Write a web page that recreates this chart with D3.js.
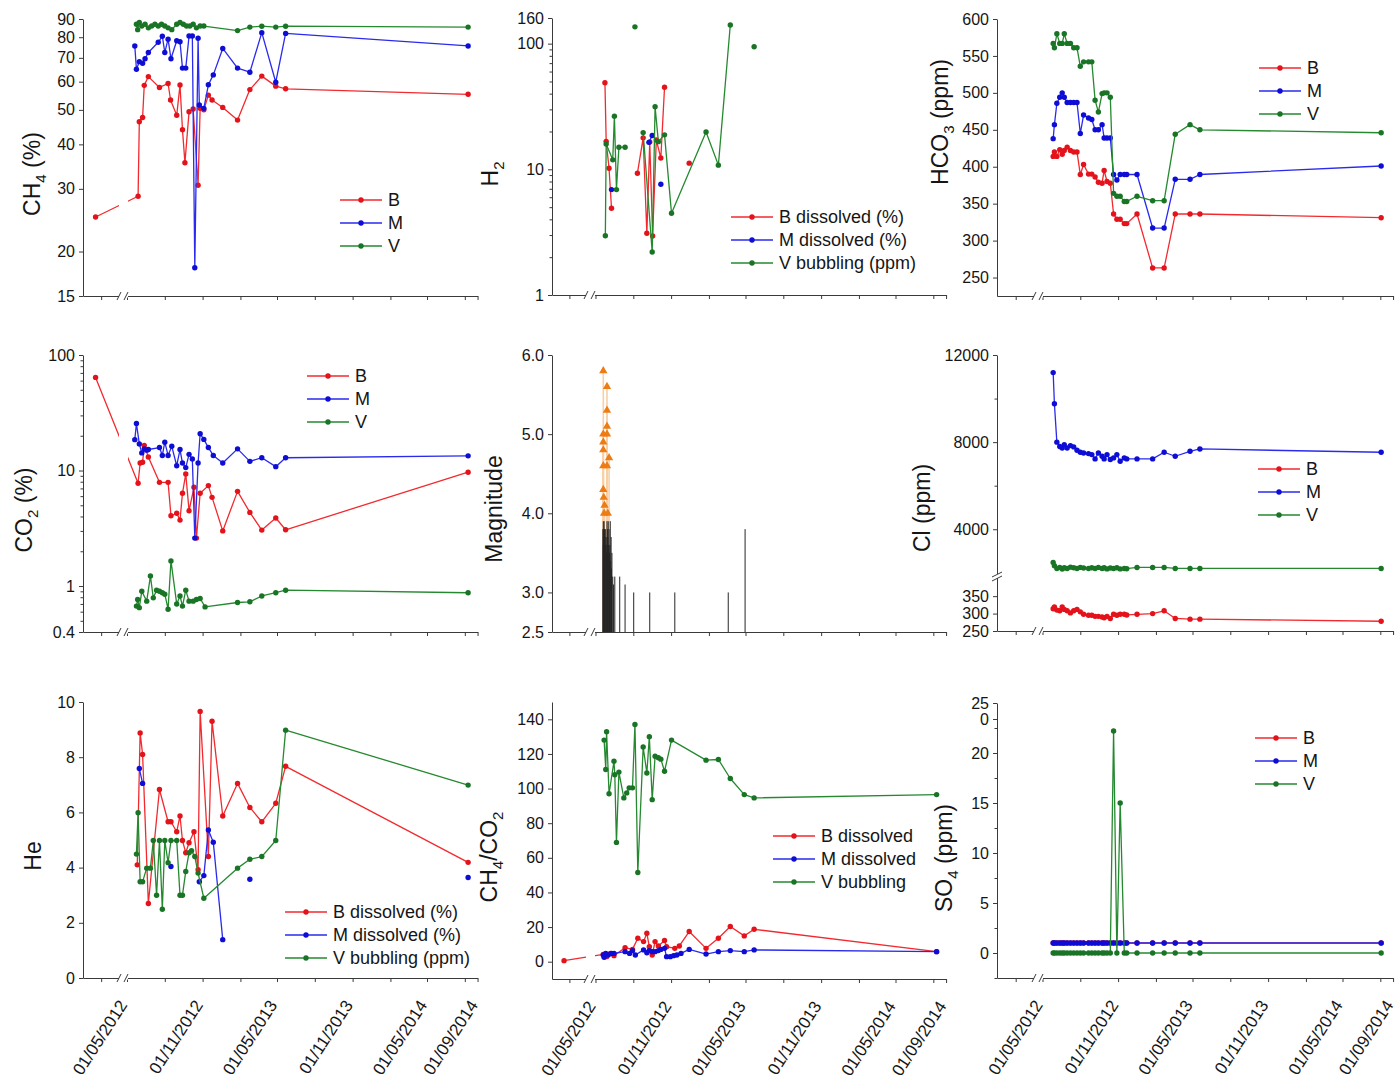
<!DOCTYPE html>
<html>
<head>
<meta charset="utf-8">
<script src="https://cdn.jsdelivr.net/npm/d3@7"></script>
<style>
  html, body { margin: 0; padding: 0; background: #fff; }
  svg { display: block; font-family: "Liberation Sans", Arial, Helvetica, sans-serif; }
</style>
</head>
<body>
<script>
// ---------- Gas samples: CH4 (%) ----------
const ch4B = [
  ["2011-09-15", 25.0],
  ["2012-05-28", 28.6], ["2012-05-31", 46.3], ["2012-06-08", 47.6], ["2012-06-12", 58.6], ["2012-06-22", 62.0],
  ["2012-07-19", 57.8], ["2012-08-09", 59.3], ["2012-08-15", 53.3], ["2012-08-30", 48.3], ["2012-09-07", 58.7],
  ["2012-09-13", 44.0], ["2012-09-19", 35.5], ["2012-09-29", 49.4], ["2012-10-09", 50.3], ["2012-10-21", 30.7],
  ["2012-10-26", 50.5], ["2012-11-04", 50.0], ["2012-11-15", 55.0], ["2012-11-24", 53.3], ["2012-12-20", 50.8],
  ["2013-01-25", 46.8], ["2013-02-24", 57.0], ["2013-03-25", 62.2], ["2013-04-28", 58.3], ["2013-05-22", 57.3],
  ["2014-08-09", 55.3]
];
const ch4M = [
  ["2012-05-20", 75.6], ["2012-05-24", 65.0], ["2012-05-31", 68.3], ["2012-06-08", 67.6], ["2012-06-14", 69.6],
  ["2012-06-22", 72.5], ["2012-07-16", 77.4], ["2012-07-26", 80.5], ["2012-08-01", 72.5], ["2012-08-09", 79.0],
  ["2012-08-16", 69.6], ["2012-08-30", 78.2], ["2012-09-07", 77.7], ["2012-09-13", 65.5], ["2012-09-21", 65.5],
  ["2012-09-29", 80.6], ["2012-10-07", 80.6], ["2012-10-13", 18.0], ["2012-10-21", 79.5], ["2012-10-24", 51.6],
  ["2012-11-04", 50.5], ["2012-11-15", 58.8], ["2012-11-27", 62.7], ["2012-12-20", 74.4], ["2013-01-25", 65.5],
  ["2013-02-24", 63.8], ["2013-03-25", 82.4], ["2013-04-28", 59.8], ["2013-05-22", 82.0], ["2014-08-09", 75.6]
];
const ch4V = [
  ["2012-05-24", 87.0], ["2012-05-27", 84.0], ["2012-05-31", 88.0], ["2012-06-06", 86.0], ["2012-06-14", 87.0],
  ["2012-06-22", 85.0], ["2012-06-30", 86.0], ["2012-07-08", 87.0], ["2012-07-16", 86.0], ["2012-07-24", 87.0],
  ["2012-08-01", 86.0], ["2012-08-09", 85.0], ["2012-08-18", 84.0], ["2012-08-30", 87.0], ["2012-09-07", 88.0],
  ["2012-09-15", 87.0], ["2012-09-23", 86.0], ["2012-10-01", 86.0], ["2012-10-09", 87.0], ["2012-10-17", 85.0],
  ["2012-10-26", 86.0], ["2012-11-04", 86.0], ["2013-01-25", 83.5], ["2013-02-24", 85.4], ["2013-03-25", 85.9],
  ["2013-04-28", 85.4], ["2013-05-22", 85.9], ["2014-08-09", 85.4]
];

// ---------- H2 ----------
const h2B = [
  ["2012-05-24", 48.9], ["2012-05-27", 16.7], ["2012-06-03", 10.2], ["2012-06-09", 4.9], null,
  ["2012-08-11", 9.3], ["2012-08-25", 17.8], ["2012-09-03", 3.1], ["2012-09-10", 16.5], ["2012-09-17", 2.95],
  ["2012-09-26", 17.1], ["2012-10-07", 12.3], ["2012-10-16", 45.0], null, ["2012-12-15", 11.2]
];
const h2M = [
  ["2012-06-09", 6.9], null, ["2012-09-08", 16.4], ["2012-09-16", 18.6], null, ["2012-10-07", 7.6]
];
const h2V = [
  ["2012-05-25", 2.96], ["2012-05-27", 15.9], ["2012-06-12", 11.9], ["2012-06-16", 26.5], ["2012-06-21", 6.9],
  ["2012-06-27", 15.0], ["2012-07-12", 15.0], null, ["2012-08-05", 136], null,
  ["2012-08-25", 19.6], ["2012-09-16", 2.2], ["2012-09-23", 31.5], ["2012-10-01", 16.6], ["2012-10-16", 18.8],
  ["2012-11-02", 4.47], ["2013-01-25", 19.8], ["2013-02-24", 10.8], ["2013-03-25", 140.6], null, ["2013-05-22", 94.5]
];

// ---------- CO2 (%) ----------
const co2B = [
  ["2011-09-15", 64],
  ["2012-05-28", 7.76], ["2012-06-02", 11.6], ["2012-06-08", 11.8], ["2012-06-12", 16.5], ["2012-06-22", 13.1],
  ["2012-07-19", 7.9], ["2012-08-09", 7.9], ["2012-08-16", 4.06], ["2012-08-30", 4.26], ["2012-09-07", 3.72],
  ["2012-09-13", 6.35], ["2012-09-21", 9.35], ["2012-09-29", 4.49], ["2012-10-11", 7.16], ["2012-10-17", 2.6],
  ["2012-10-26", 6.35], ["2012-11-15", 7.4], ["2012-11-24", 5.86], ["2012-12-20", 3.0], ["2013-01-25", 6.6],
  ["2013-02-24", 4.34], ["2013-03-25", 3.05], ["2013-04-28", 3.88], ["2013-05-22", 3.07], ["2014-08-09", 9.67]
];
const co2M = [
  ["2012-05-20", 18.5], ["2012-05-24", 25.5], ["2012-05-31", 17.0], ["2012-06-06", 14.2], ["2012-06-12", 15.4],
  ["2012-06-18", 15.0], ["2012-06-22", 15.2], ["2012-07-19", 15.8], ["2012-07-26", 13.5], ["2012-08-01", 17.6],
  ["2012-08-09", 13.5], ["2012-08-18", 16.2], ["2012-08-30", 11.0], ["2012-09-07", 15.2], ["2012-09-13", 11.6],
  ["2012-09-21", 10.6], ["2012-09-29", 13.8], ["2012-10-07", 12.6], ["2012-10-13", 2.6], ["2012-10-21", 11.6],
  ["2012-10-26", 20.8], ["2012-11-04", 18.6], ["2012-11-15", 15.8], ["2012-11-27", 13.5], ["2012-12-20", 11.6],
  ["2013-01-25", 15.4], ["2013-02-24", 12.0], ["2013-03-25", 12.9], ["2013-04-28", 10.8], ["2013-05-22", 12.9],
  ["2014-08-09", 13.4]
];
const co2V = [
  ["2012-05-24", 0.67], ["2012-05-27", 0.765], ["2012-05-31", 0.65], ["2012-06-06", 0.9], ["2012-06-18", 0.74],
  ["2012-06-27", 1.22], ["2012-07-04", 0.79], ["2012-07-12", 0.92], ["2012-07-19", 0.9], ["2012-07-26", 0.875],
  ["2012-08-01", 0.85], ["2012-08-09", 0.63], ["2012-08-16", 1.65], ["2012-08-30", 0.70], ["2012-09-07", 0.82],
  ["2012-09-13", 0.67], ["2012-09-21", 0.92], ["2012-09-29", 0.74], ["2012-10-09", 0.74], ["2012-10-17", 0.765],
  ["2012-10-26", 0.78], ["2012-11-07", 0.66], ["2013-01-25", 0.72], ["2013-02-24", 0.73], ["2013-03-25", 0.82],
  ["2013-04-28", 0.875], ["2013-05-22", 0.92], ["2014-08-09", 0.875]
];

// ---------- He ----------
const heB = [
  ["2012-05-26", 4.1], ["2012-06-02", 8.88], ["2012-06-08", 8.1], ["2012-06-22", 2.7], ["2012-07-19", 6.83],
  ["2012-08-09", 5.66], ["2012-08-16", 5.66], ["2012-08-30", 5.3], ["2012-09-07", 5.87], ["2012-09-13", 4.98],
  ["2012-09-21", 4.54], ["2012-09-29", 4.9], ["2012-10-11", 5.3], ["2012-10-21", 3.92], ["2012-10-26", 9.66],
  ["2012-11-15", 4.4], ["2012-11-24", 9.3], ["2012-12-20", 5.87], ["2013-01-25", 7.05], ["2013-02-24", 6.18],
  ["2013-03-25", 5.66], ["2013-04-28", 6.33], ["2013-05-22", 7.67], ["2014-08-09", 4.19]
];
const heM = [
  ["2012-05-31", 7.59], ["2012-06-08", 7.05], null, ["2012-08-16", 4.04], null,
  ["2012-10-24", 3.49], ["2012-11-04", 3.71], ["2012-11-15", 5.36], ["2012-11-27", 4.92], ["2012-12-20", 1.39], null,
  ["2013-02-24", 3.58], null, ["2014-08-09", 3.64]
];
const heV = [
  ["2012-05-24", 4.49], ["2012-05-28", 5.99], ["2012-06-02", 3.49], ["2012-06-08", 3.49], ["2012-06-18", 3.98],
  ["2012-06-27", 3.98], ["2012-07-04", 4.98], ["2012-07-12", 3.0], ["2012-07-19", 4.98], ["2012-07-26", 2.49],
  ["2012-08-01", 4.98], ["2012-08-09", 4.18], ["2012-08-16", 4.98], ["2012-08-30", 4.98], ["2012-09-07", 3.0],
  ["2012-09-13", 3.0], ["2012-09-21", 3.86], ["2012-09-29", 4.54], ["2012-10-05", 4.61], ["2012-10-13", 4.4],
  ["2012-10-21", 3.8], ["2012-11-04", 2.89], ["2013-01-25", 3.98], ["2013-02-24", 4.3], ["2013-03-25", 4.4],
  ["2013-04-28", 4.98], ["2013-05-22", 8.98], ["2014-08-09", 6.99]
];

// ---------- CH4/CO2 ----------
const ratioB = [
  ["2011-09-15", 0.6],
  ["2012-05-20", 4.2], ["2012-05-28", 2.9], ["2012-06-06", 4.8], ["2012-06-15", 3.5], ["2012-07-12", 8.1],
  ["2012-07-30", 7.1], ["2012-08-12", 13.5], ["2012-08-26", 11.6], ["2012-09-03", 16.4], ["2012-09-09", 8.7],
  ["2012-09-16", 3.9], ["2012-09-23", 11.6], ["2012-10-01", 9.1], ["2012-10-16", 12.2], ["2012-10-21", 8.7],
  ["2012-11-10", 7.7], ["2012-11-21", 9.1], ["2012-12-15", 17.4], ["2013-01-25", 7.7], ["2013-02-24", 13.5],
  ["2013-03-25", 20.3], ["2013-04-28", 14.9], ["2013-05-22", 18.7], ["2014-08-09", 5.8]
];
const ratioM = [
  ["2012-05-20", 3.9], ["2012-05-22", 2.5], ["2012-05-26", 4.8], ["2012-06-01", 3.9], ["2012-06-09", 4.8],
  ["2012-06-15", 4.8], ["2012-07-12", 5.8], ["2012-07-23", 4.8], ["2012-07-30", 6.4], ["2012-08-06", 3.9],
  ["2012-08-26", 6.8], ["2012-09-03", 5.2], ["2012-09-09", 6.4], ["2012-09-16", 5.8], ["2012-09-23", 5.8],
  ["2012-10-01", 6.4], ["2012-10-07", 7.1], ["2012-10-16", 7.7], ["2012-10-21", 2.9], ["2012-10-30", 2.9],
  ["2012-11-07", 3.5], ["2012-11-15", 3.9], ["2012-11-25", 4.8], ["2012-12-15", 7.1], ["2013-01-25", 4.4],
  ["2013-02-24", 5.8], ["2013-03-25", 6.4], ["2013-04-28", 5.8], ["2013-05-22", 6.8], ["2014-08-09", 5.8]
];
const ratioV = [
  ["2012-05-22", 128], ["2012-05-26", 111], ["2012-05-28", 132.8], ["2012-06-03", 97], ["2012-06-15", 115.8],
  ["2012-06-17", 108], ["2012-06-21", 68.9], ["2012-06-27", 109.5], ["2012-07-09", 94.6], ["2012-07-16", 97.5],
  ["2012-07-22", 100.4], ["2012-07-30", 100.4], ["2012-08-05", 137], ["2012-08-12", 51.5], ["2012-08-25", 124],
  ["2012-09-03", 109], ["2012-09-09", 130], ["2012-09-16", 93.6], ["2012-09-23", 118.7], ["2012-10-01", 117.8],
  ["2012-10-07", 117], ["2012-10-16", 110], ["2012-11-02", 128], ["2013-01-25", 116.4], ["2013-02-24", 116.8],
  ["2013-03-25", 105.8], ["2013-04-28", 96.5], ["2013-05-22", 94.6], ["2014-08-09", 96.5]
];

// ---------- Seismicity (local magnitude) ----------
const quakes = [
  ["2012-05-19", 3.8], ["2012-05-20", 3.9], ["2012-05-20", 3.6], ["2012-05-21", 3.8], ["2012-05-21", 3.3],
  ["2012-05-22", 3.9], ["2012-05-23", 3.8], ["2012-05-23", 3.4], ["2012-05-24", 3.7], ["2012-05-25", 3.8],
  ["2012-05-26", 3.6], ["2012-05-27", 3.7], ["2012-05-28", 3.5], ["2012-05-29", 3.9], ["2012-05-29", 3.6],
  ["2012-05-30", 3.8], ["2012-05-31", 3.7], ["2012-06-01", 3.9], ["2012-06-02", 3.6], ["2012-06-03", 3.8],
  ["2012-06-04", 3.5], ["2012-06-05", 3.6], ["2012-06-06", 3.9], ["2012-06-07", 3.4], ["2012-06-08", 3.7],
  ["2012-06-09", 3.3], ["2012-06-10", 3.5], ["2012-06-12", 3.2], ["2012-06-14", 3.1], ["2012-06-17", 3.2],
  ["2012-06-29", 3.2], ["2012-07-12", 3.1], ["2012-08-02", 3.0], ["2012-09-10", 3.0], ["2012-11-10", 3.0],
  ["2013-03-20", 3.0], ["2013-04-30", 3.8]
];
const strongQuakes = [
  ["2012-05-20", 5.8], ["2012-05-29", 5.6], ["2012-05-29", 5.3], ["2012-05-29", 5.1], ["2012-05-20", 5.0],
  ["2012-05-29", 5.0], ["2012-05-20", 4.9], ["2012-05-20", 4.8], ["2012-06-03", 4.7], ["2012-05-20", 4.6],
  ["2012-05-29", 4.6], ["2012-05-20", 4.3], ["2012-05-21", 4.2], ["2012-05-23", 4.1], ["2012-05-22", 4.0],
  ["2012-05-31", 4.0]
];

// ---------- Water samples (HCO3, Cl, SO4 in ppm) ----------
const waterDates = [
  "2012-05-27", "2012-05-30", "2012-06-05", "2012-06-12", "2012-06-18", "2012-06-23", "2012-06-30", "2012-07-08",
  "2012-07-16", "2012-07-24", "2012-08-01", "2012-08-09", "2012-08-21", "2012-08-29", "2012-09-06", "2012-09-14",
  "2012-09-23", "2012-09-28", "2012-10-05", "2012-10-13", "2012-10-21", "2012-10-29", "2012-11-06", "2012-11-16",
  "2012-11-22", "2012-12-17", "2013-01-24", "2013-02-21", "2013-03-20", "2013-04-25", "2013-05-19", "2014-08-03"
];
const hco3B = [414, 420, 414, 423, 417, 422, 426.5, 422, 420, 420, 389.5, 403, 390, 390, 386, 379,
               377.7, 395, 380, 377.7, 336, 329, 329, 323, 323, 336, 263, 263, 336, 336, 336, 331];
const hco3M = [438, 457, 486, 494, 500, 494, 487, 487, 487, 487, 445, 470, 466, 464, 450, 450,
               457, 439, 439, 439, 389.5, 382, 389.5, 389.5, 389.5, 389.5, 317, 317, 383, 383, 389.5, 401];
const hco3V = [567, 561, 580, 567, 567, 580, 567, 567, 561, 561, 536, 542, 542, 542, 490, 474,
               499, 500, 500, 494, 364, 360, 360, 353, 353, 360, 354, 354, 444, 457, 450, 446];
const clB = [314, 319, 310, 308, 319, 312, 308, 302, 308, 312, 305, 298, 295, 295, 292, 292,
             290, 288, 292, 286, 298, 295, 298, 298, 296, 298, 300, 308, 286, 284, 284, 278];
const clM = [11192, 9760, 8000, 7800, 7733, 7885, 7733, 7840, 7780, 7626, 7535, 7504, 7474, 7428, 7230, 7504,
             7352, 7230, 7428, 7200, 7276, 7428, 7123, 7276, 7230, 7230, 7230, 7535, 7352, 7580, 7687, 7535];
const clV = [2475, 2323, 2200, 2250, 2170, 2230, 2200, 2260, 2230, 2200, 2250, 2220, 2200, 2230, 2200, 2250,
             2200, 2230, 2180, 2220, 2200, 2230, 2180, 2200, 2190, 2246, 2246, 2246, 2200, 2200, 2200, 2200];
const so4B = [1, 1, 1, 1, 1, 1, 1, 1, 1, 1, 1, 1, 1, 1, 1, 1, 1, 1, 1, 1, 1, 1, 1, 1, 1, 1, 1, 1, 1, 1, 1, 1];
const so4M = [1, 1, 1, 1, 1, 1, 1, 1, 1, 1, 1, 1, 1, 1, 1, 1, 1, 1, 1, 1, 1, 1, 1, 1, 1, 1, 1, 1, 1, 1, 1, 1];
const so4V = [0, 0, 0, 0, 0, 0, 0, 0, 0, 0, 0, 0, 0, 0, 0, 0, 0, 0, 0, 0, 22.2, 0, 15, 0, 0, 0, 0, 0, 0, 0, 0, 0];

// ---------- Axis ticks ----------
const xTickDates = ["2011-11-01", "2012-05-01", "2012-08-01", "2012-11-01", "2013-02-01", "2013-05-01",
                    "2013-08-01", "2013-11-01", "2014-02-01", "2014-05-01", "2014-08-01", "2014-09-01"];
const xLabelDates = ["2012-05-01", "2012-11-01", "2013-05-01", "2013-11-01", "2014-05-01", "2014-09-01"];
const gasLegend = ["B", "M", "V"];
const h2Legend = ["B dissolved (%)", "M dissolved (%)", "V bubbling (ppm)"];
const ratioLegend = ["B dissolved", "M dissolved", "V bubbling"];

// ---------- Drawing ----------
const W = 1397, H = 1089;
const parse = d3.timeParse("%Y-%m-%d");
const DAY = 864e5;
const colors = { B: "#f22a2f", M: "#2a2aee", V: "#25892f" };
const dotColors = { B: "#e4121a", M: "#0d0dd6", V: "#1a7426" };
const axisColor = "#3a3a3a";

const svg = d3.select("body").append("svg").attr("width", W).attr("height", H);
svg.append("rect").attr("width", W).attr("height", H).attr("fill", "#fff");

// one broken time axis per column: a short stretch before the break, then linear time
const columns = [
  { left: 83,  breakX: 121,  anchorX: 277,    k: 0.411 },
  { left: 552, breakX: 588,  anchorX: 745.5,  k: 0.411 },
  { left: 997, breakX: 1036, anchorX: 1192.5, k: 0.411 }
];
const anchorDate = parse("2013-05-01"), endDate = parse("2014-09-01"), preStart = parse("2011-06-01");
columns.forEach(c => {
  const endX = c.anchorX + (endDate - anchorDate) / DAY * c.k;
  const breakDate = new Date(+anchorDate + (c.breakX - c.anchorX) / c.k * DAY);
  c.x = d3.scaleTime().domain([preStart, breakDate, endDate]).range([c.left, c.breakX, endX]);
});

const pairs = (dates, vals) => dates.map((d, i) => [d, vals[i]]);
const range = (a, b, s) => d3.range(a, b + s / 2, s);

const panels = [
  { col: 0, row: 0, y: d3.scaleLog().domain([15, 90]).range([296, 19]),
    ticks: [15, 20, 30, 40, 50, 60, 70, 80, 90],
    title: [["CH"], ["4", 1], ["  (%)"]], tx: 40, ty: 174,
    series: { B: ch4B, M: ch4M, V: ch4V }, legend: [340, 200, gasLegend] },
  { col: 1, row: 0, y: d3.scaleLog().domain([1, 160]).range([295, 18]),
    ticks: [1, 10, 100, 160], minor: [2, 3, 4, 5, 6, 7, 8, 9, 20, 30, 40, 50, 60, 70, 80, 90],
    title: [["H"], ["2", 1]], tx: 498, ty: 174,
    series: { B: h2B, M: h2M, V: h2V }, legend: [731, 217, h2Legend] },
  { col: 2, row: 0, y: d3.scaleLinear().domain([225, 600]).range([296, 19]),
    ticks: range(250, 600, 50),
    title: [["HCO"], ["3", 1], [" (ppm)"]], tx: 948, ty: 122,
    series: { B: pairs(waterDates, hco3B), M: pairs(waterDates, hco3M), V: pairs(waterDates, hco3V) },
    legend: [1259, 68, gasLegend] },
  { col: 0, row: 1, y: d3.scaleLog().domain([0.4, 100]).range([632, 355]),
    ticks: [0.4, 1, 10, 100], minor: [0.5, 0.6, 0.7, 0.8, 0.9, 2, 3, 4, 5, 6, 7, 8, 9, 20, 30, 40, 50, 60, 70, 80, 90],
    title: [["CO"], ["2", 1], ["  (%)"]], tx: 32, ty: 510,
    series: { B: co2B, M: co2M, V: co2V }, legend: [307, 376, gasLegend] },
  { col: 1, row: 1, y: d3.scaleLinear().domain([2.5, 6]).range([632, 355]),
    ticks: [2.5, 3, 4, 5, 6], fmt: d3.format(".1f"),
    title: [["Magnitude"]], tx: 502, ty: 509, quakes: true },
  { col: 2, row: 1, y: d3.scaleLinear().domain([250, 405, 1900, 12000]).range([631, 577, 575, 355]),
    ticks: [250, 300, 350, 4000, 8000, 12000], minor: [6000, 10000], yBreak: 576,
    title: [["Cl (ppm)"]], tx: 930, ty: 508,
    series: { B: pairs(waterDates, clB), M: pairs(waterDates, clM), V: pairs(waterDates, clV) },
    legend: [1258, 469, gasLegend] },
  { col: 0, row: 2, y: d3.scaleLinear().domain([0, 10]).range([978, 702]),
    ticks: range(0, 10, 2),
    title: [["He"]], tx: 41, ty: 856,
    series: { B: heB, M: heM, V: heV }, legend: [285, 912, h2Legend] },
  { col: 1, row: 2, y: d3.scaleLinear().domain([-10, 150]).range([979, 702]),
    ticks: range(0, 140, 20),
    title: [["CH"], ["4", 1], ["/CO"], ["2", 1]], tx: 497, ty: 857,
    series: { B: ratioB, M: ratioM, V: ratioV }, legend: [773, 836, ratioLegend] },
  { col: 2, row: 2, y: d3.scaleLinear().domain([-2.5, 25]).range([978, 703]),
    ticks: [0, 5, 10, 15, 20, 23.4, 25], fmt: d => (d === 23.4 ? "0" : d),
    minor: [-2.5, 2.5, 7.5, 12.5, 17.5, 22.5],
    title: [["SO"], ["4", 1], [" (ppm)"]], tx: 952, ty: 858,
    series: { B: pairs(waterDates, so4B), M: pairs(waterDates, so4M), V: pairs(waterDates, so4V) },
    legend: [1255, 738, gasLegend] }
];

function styleAxis(g) {
  g.selectAll("path, line").attr("stroke", axisColor).attr("stroke-width", 1);
  g.selectAll("text").attr("fill", "#151515").attr("font-size", 16);
}

panels.forEach(p => {
  const c = columns[p.col];
  const x = c.x, y = p.y;
  const yr = y.range();
  const bottom = yr[0], top = yr[yr.length - 1];
  const g = svg.append("g");

  // y axis
  const ya = g.append("g").attr("transform", `translate(${c.left},0)`)
    .call(d3.axisLeft(y).tickValues(p.ticks).tickSize(4).tickSizeOuter(0).tickPadding(4)
      .tickFormat(p.fmt || (d => d)));
  styleAxis(ya);
  if (p.minor) {
    const ym = g.append("g").attr("transform", `translate(${c.left},0)`)
      .call(d3.axisLeft(y).tickValues(p.minor).tickSize(2.5).tickFormat(""));
    ym.select(".domain").remove();
    styleAxis(ym);
  }

  // x axis
  const xa = g.append("g").attr("transform", `translate(0,${bottom})`)
    .call(d3.axisBottom(x).tickValues(xTickDates.map(parse)).tickSize(4).tickSizeOuter(0).tickFormat(""));
  styleAxis(xa);

  if (p.row === 2) {
    xLabelDates.forEach(s => {
      const tx = x(parse(s)) + 1, ty = bottom + 27;
      g.append("text")
        .attr("transform", `translate(${tx},${ty}) rotate(-57)`)
        .attr("text-anchor", "end")
        .attr("font-size", 17).attr("fill", "#151515")
        .text(d3.timeFormat("%d/%m/%Y")(parse(s)));
    });
  }

  // axis title, with chemical subscripts
  const t = g.append("text")
    .attr("transform", `translate(${p.tx},${p.ty}) rotate(-90)`)
    .attr("text-anchor", "middle").attr("font-size", 23).attr("fill", "#151515");
  p.title.forEach(([s, sub], i) => {
    const ts = t.append("tspan").text(s);
    if (sub) ts.attr("font-size", 15).attr("dy", 6);
    else if (i > 0 && p.title[i - 1][1]) ts.attr("dy", -6);
  });

  // data
  if (p.series) {
    ["B", "M", "V"].forEach(k => {
      const pts = p.series[k].map(d => (d ? { x: x(parse(d[0])), y: y(d[1]) } : null));
      g.append("path")
        .attr("d", d3.line().defined(d => d).x(d => d.x).y(d => d.y)(pts))
        .attr("fill", "none").attr("stroke", colors[k]).attr("stroke-width", 1.3)
        .attr("stroke-linejoin", "round");
      g.append("g").selectAll("circle").data(pts.filter(Boolean)).join("circle")
        .attr("cx", d => d.x).attr("cy", d => d.y).attr("r", 2.7).attr("fill", dotColors[k]);
    });
  }

  if (p.quakes) {
    const base = y(2.5);
    g.append("g").selectAll("line").data(strongQuakes).join("line")
      .attr("x1", d => x(parse(d[0]))).attr("x2", d => x(parse(d[0])))
      .attr("y1", base).attr("y2", d => y(d[1]))
      .attr("stroke", "#f7cfa8").attr("stroke-width", 1.6);
    g.append("g").selectAll("line").data(quakes).join("line")
      .attr("x1", d => x(parse(d[0]))).attr("x2", d => x(parse(d[0])))
      .attr("y1", base).attr("y2", d => y(d[1]))
      .attr("stroke", "#262626").attr("stroke-width", 1);
    g.append("g").selectAll("path").data(strongQuakes).join("path")
      .attr("transform", d => `translate(${x(parse(d[0]))},${y(d[1])})`)
      .attr("d", d3.symbol(d3.symbolTriangle, 30))
      .attr("fill", "#ee7c14");
  }

  // legend
  if (p.legend) {
    const [lx, ly, labels] = p.legend;
    ["B", "M", "V"].forEach((k, i) => {
      const yy = ly + i * 23;
      g.append("line").attr("x1", lx).attr("x2", lx + 42).attr("y1", yy).attr("y2", yy)
        .attr("stroke", colors[k]).attr("stroke-width", 1.3);
      g.append("circle").attr("cx", lx + 21).attr("cy", yy).attr("r", 2.7).attr("fill", dotColors[k]);
      g.append("text").attr("x", lx + 48).attr("y", yy).attr("dy", "0.36em")
        .attr("font-size", 18).attr("fill", "#151515").text(labels[i]);
    });
  }

  // time-axis break: cut the axis (and any line through it) and draw the slashes
  const bx = c.breakX;
  g.append("rect").attr("x", bx - 2).attr("y", top).attr("width", 9).attr("height", bottom - top + 1.5)
    .attr("fill", "#fff");
  [[bx - 4, bx], [bx + 3, bx + 7]].forEach(([a, b]) => {
    g.append("line").attr("x1", a).attr("y1", bottom + 4).attr("x2", b).attr("y2", bottom - 4)
      .attr("stroke", axisColor).attr("stroke-width", 1);
  });

  // value-axis break (Cl)
  if (p.yBreak) {
    const by = p.yBreak, ax = c.left;
    g.append("rect").attr("x", ax - 2).attr("y", by - 2).attr("width", 4).attr("height", 4).attr("fill", "#fff");
    [[by + 1, by - 4], [by + 5, by]].forEach(([a, b]) => {
      g.append("line").attr("x1", ax - 5).attr("y1", a).attr("x2", ax + 5).attr("y2", b)
        .attr("stroke", axisColor).attr("stroke-width", 1);
    });
  }
});
</script>
</body>
</html>
